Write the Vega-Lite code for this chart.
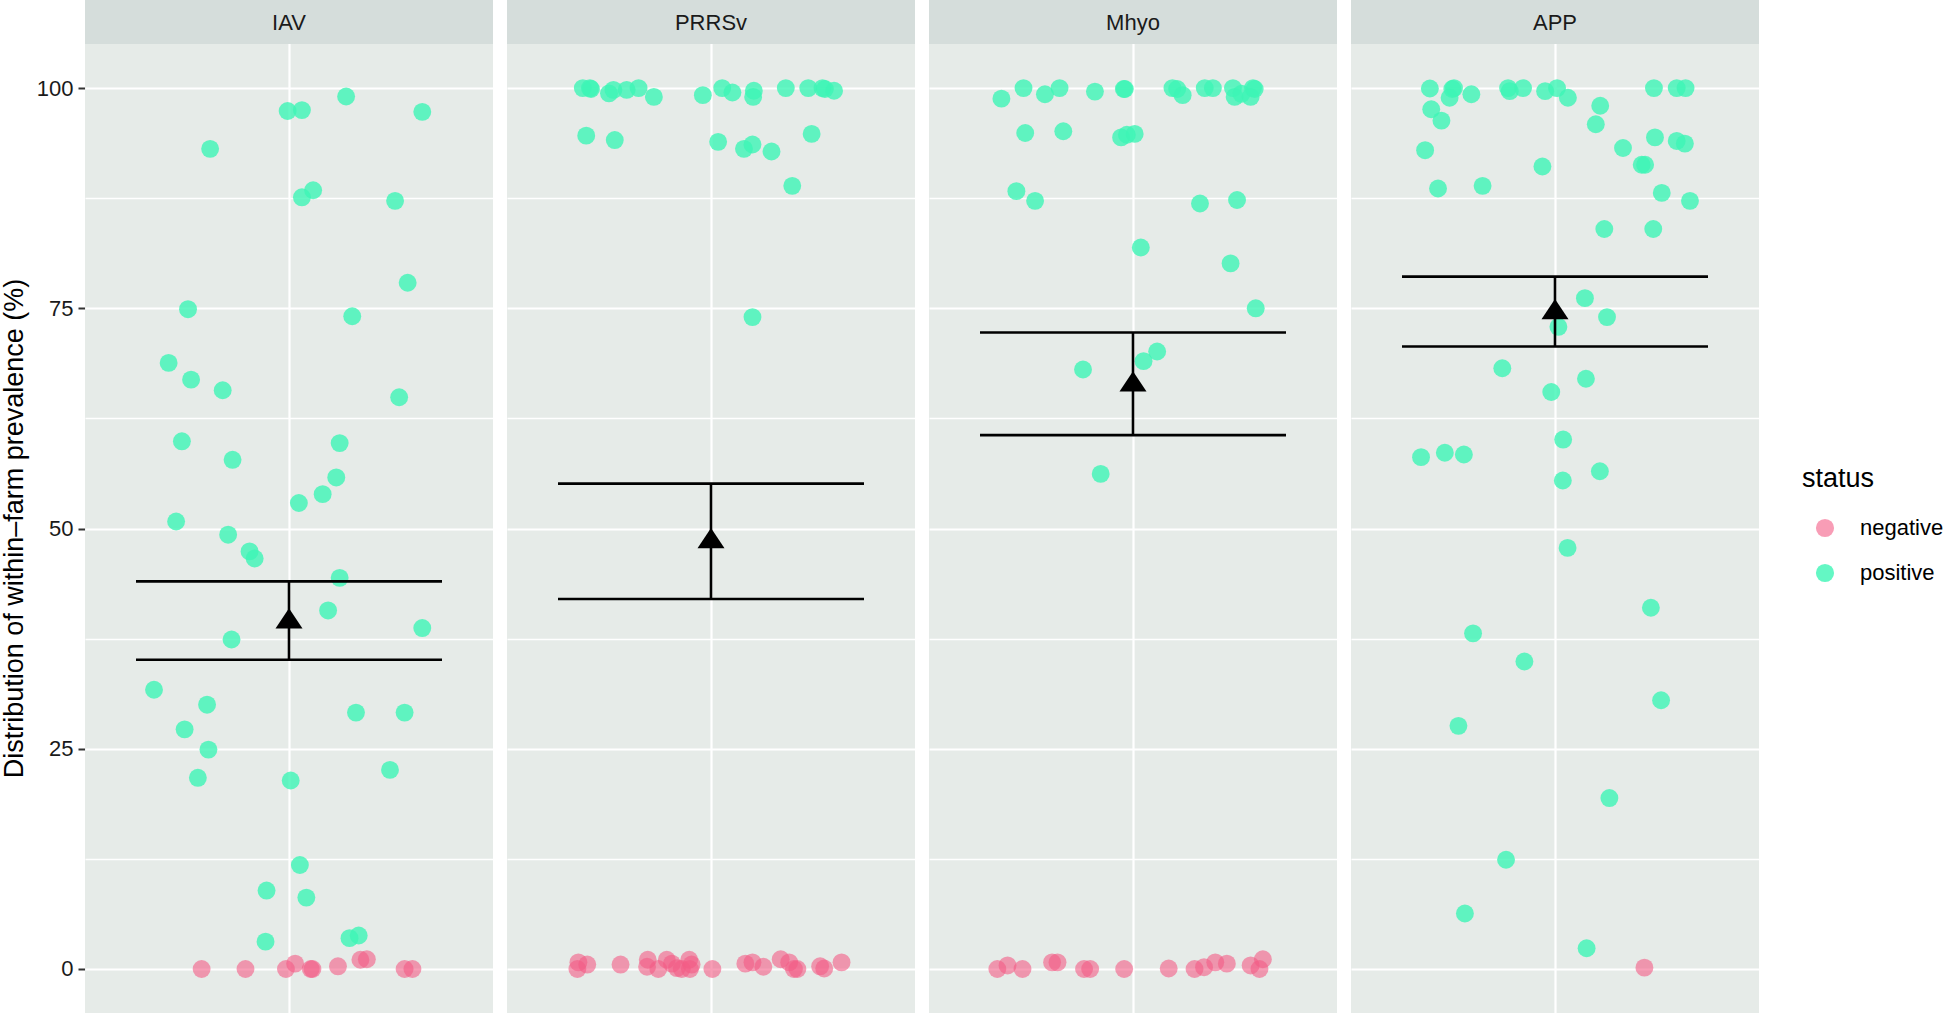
{
  "$schema": "https://vega.github.io/schema/vega-lite/v6.json",
  "padding": {"left": 0, "top": 0, "right": 0, "bottom": 0},
  "background": "white",
  "config": {
    "font": "Liberation Sans",
    "view": {"fill": "#E6EBE8", "stroke": null},
    "legend": {"orient": "none", "legendX": 1717, "legendY": 466}
  },
  "data": {"values": [
    {"pathogen":"IAV","mean":39.8,"lo":35.1,"hi":44.0},
    {"pathogen":"PRRSv","mean":48.9,"lo":42.0,"hi":55.1},
    {"pathogen":"Mhyo","mean":66.7,"lo":60.6,"hi":72.25},
    {"pathogen":"APP","mean":74.9,"lo":70.66,"hi":78.6},
    {"pathogen":"IAV","status":"positive","jitter":0.168,"prevalence":99.05},
    {"pathogen":"IAV","status":"positive","jitter":-0.004,"prevalence":97.4},
    {"pathogen":"IAV","status":"positive","jitter":0.038,"prevalence":97.5},
    {"pathogen":"IAV","status":"positive","jitter":0.392,"prevalence":97.3},
    {"pathogen":"IAV","status":"positive","jitter":-0.232,"prevalence":93.1},
    {"pathogen":"IAV","status":"positive","jitter":0.071,"prevalence":88.4},
    {"pathogen":"IAV","status":"positive","jitter":0.038,"prevalence":87.6},
    {"pathogen":"IAV","status":"positive","jitter":0.312,"prevalence":87.2},
    {"pathogen":"IAV","status":"positive","jitter":0.349,"prevalence":77.9},
    {"pathogen":"IAV","status":"positive","jitter":-0.297,"prevalence":74.9},
    {"pathogen":"IAV","status":"positive","jitter":0.186,"prevalence":74.1},
    {"pathogen":"IAV","status":"positive","jitter":-0.354,"prevalence":68.8},
    {"pathogen":"IAV","status":"positive","jitter":-0.288,"prevalence":66.9},
    {"pathogen":"IAV","status":"positive","jitter":-0.195,"prevalence":65.7},
    {"pathogen":"IAV","status":"positive","jitter":0.324,"prevalence":64.9},
    {"pathogen":"IAV","status":"positive","jitter":-0.315,"prevalence":59.9},
    {"pathogen":"IAV","status":"positive","jitter":0.149,"prevalence":59.7},
    {"pathogen":"IAV","status":"positive","jitter":-0.166,"prevalence":57.8},
    {"pathogen":"IAV","status":"positive","jitter":0.139,"prevalence":55.8},
    {"pathogen":"IAV","status":"positive","jitter":0.099,"prevalence":53.9},
    {"pathogen":"IAV","status":"positive","jitter":0.029,"prevalence":52.9},
    {"pathogen":"IAV","status":"positive","jitter":-0.332,"prevalence":50.8},
    {"pathogen":"IAV","status":"positive","jitter":-0.179,"prevalence":49.3},
    {"pathogen":"IAV","status":"positive","jitter":-0.116,"prevalence":47.4},
    {"pathogen":"IAV","status":"positive","jitter":-0.101,"prevalence":46.6},
    {"pathogen":"IAV","status":"positive","jitter":0.149,"prevalence":44.4},
    {"pathogen":"IAV","status":"positive","jitter":0.115,"prevalence":40.7},
    {"pathogen":"IAV","status":"positive","jitter":0.392,"prevalence":38.7},
    {"pathogen":"IAV","status":"positive","jitter":-0.169,"prevalence":37.4},
    {"pathogen":"IAV","status":"positive","jitter":-0.397,"prevalence":31.7},
    {"pathogen":"IAV","status":"positive","jitter":-0.241,"prevalence":30.0},
    {"pathogen":"IAV","status":"positive","jitter":0.197,"prevalence":29.1},
    {"pathogen":"IAV","status":"positive","jitter":0.340,"prevalence":29.1},
    {"pathogen":"IAV","status":"positive","jitter":-0.307,"prevalence":27.2},
    {"pathogen":"IAV","status":"positive","jitter":-0.237,"prevalence":24.9},
    {"pathogen":"IAV","status":"positive","jitter":0.297,"prevalence":22.6},
    {"pathogen":"IAV","status":"positive","jitter":-0.268,"prevalence":21.7},
    {"pathogen":"IAV","status":"positive","jitter":0.005,"prevalence":21.4},
    {"pathogen":"IAV","status":"positive","jitter":0.032,"prevalence":11.8},
    {"pathogen":"IAV","status":"positive","jitter":-0.066,"prevalence":8.9},
    {"pathogen":"IAV","status":"positive","jitter":0.051,"prevalence":8.1},
    {"pathogen":"IAV","status":"positive","jitter":0.178,"prevalence":3.5},
    {"pathogen":"IAV","status":"positive","jitter":0.205,"prevalence":3.8},
    {"pathogen":"IAV","status":"positive","jitter":-0.069,"prevalence":3.1},
    {"pathogen":"IAV","status":"negative","jitter":-0.257,"prevalence":0},
    {"pathogen":"IAV","status":"negative","jitter":-0.128,"prevalence":0},
    {"pathogen":"IAV","status":"negative","jitter":-0.009,"prevalence":0},
    {"pathogen":"IAV","status":"negative","jitter":0.018,"prevalence":0.6},
    {"pathogen":"IAV","status":"negative","jitter":0.064,"prevalence":0},
    {"pathogen":"IAV","status":"negative","jitter":0.069,"prevalence":0},
    {"pathogen":"IAV","status":"negative","jitter":0.144,"prevalence":0.3},
    {"pathogen":"IAV","status":"negative","jitter":0.21,"prevalence":1.05},
    {"pathogen":"IAV","status":"negative","jitter":0.229,"prevalence":1.1},
    {"pathogen":"IAV","status":"negative","jitter":0.34,"prevalence":0},
    {"pathogen":"IAV","status":"negative","jitter":0.363,"prevalence":0},
    {"pathogen":"PRRSv","status":"positive","jitter":-0.377,"prevalence":100},
    {"pathogen":"PRRSv","status":"positive","jitter":-0.356,"prevalence":100},
    {"pathogen":"PRRSv","status":"positive","jitter":-0.353,"prevalence":99.9},
    {"pathogen":"PRRSv","status":"positive","jitter":-0.3,"prevalence":99.4},
    {"pathogen":"PRRSv","status":"positive","jitter":-0.287,"prevalence":99.8},
    {"pathogen":"PRRSv","status":"positive","jitter":-0.248,"prevalence":99.8},
    {"pathogen":"PRRSv","status":"positive","jitter":-0.213,"prevalence":100},
    {"pathogen":"PRRSv","status":"positive","jitter":-0.168,"prevalence":99.0},
    {"pathogen":"PRRSv","status":"positive","jitter":-0.024,"prevalence":99.2},
    {"pathogen":"PRRSv","status":"positive","jitter":0.033,"prevalence":100},
    {"pathogen":"PRRSv","status":"positive","jitter":0.063,"prevalence":99.5},
    {"pathogen":"PRRSv","status":"positive","jitter":0.126,"prevalence":99.7},
    {"pathogen":"PRRSv","status":"positive","jitter":0.124,"prevalence":99.0},
    {"pathogen":"PRRSv","status":"positive","jitter":0.22,"prevalence":100},
    {"pathogen":"PRRSv","status":"positive","jitter":0.286,"prevalence":100},
    {"pathogen":"PRRSv","status":"positive","jitter":0.328,"prevalence":100},
    {"pathogen":"PRRSv","status":"positive","jitter":0.335,"prevalence":99.9},
    {"pathogen":"PRRSv","status":"positive","jitter":0.362,"prevalence":99.7},
    {"pathogen":"PRRSv","status":"positive","jitter":-0.367,"prevalence":94.6},
    {"pathogen":"PRRSv","status":"positive","jitter":-0.283,"prevalence":94.1},
    {"pathogen":"PRRSv","status":"positive","jitter":0.021,"prevalence":93.9},
    {"pathogen":"PRRSv","status":"positive","jitter":0.097,"prevalence":93.1},
    {"pathogen":"PRRSv","status":"positive","jitter":0.122,"prevalence":93.6},
    {"pathogen":"PRRSv","status":"positive","jitter":0.178,"prevalence":92.8},
    {"pathogen":"PRRSv","status":"positive","jitter":0.296,"prevalence":94.8},
    {"pathogen":"PRRSv","status":"positive","jitter":0.239,"prevalence":88.9},
    {"pathogen":"PRRSv","status":"positive","jitter":0.122,"prevalence":74.0},
    {"pathogen":"PRRSv","status":"negative","jitter":-0.393,"prevalence":0},
    {"pathogen":"PRRSv","status":"negative","jitter":-0.39,"prevalence":0.75},
    {"pathogen":"PRRSv","status":"negative","jitter":-0.364,"prevalence":0.5},
    {"pathogen":"PRRSv","status":"negative","jitter":-0.266,"prevalence":0.5},
    {"pathogen":"PRRSv","status":"negative","jitter":-0.186,"prevalence":1.05},
    {"pathogen":"PRRSv","status":"negative","jitter":-0.188,"prevalence":0.25},
    {"pathogen":"PRRSv","status":"negative","jitter":-0.155,"prevalence":0},
    {"pathogen":"PRRSv","status":"negative","jitter":-0.13,"prevalence":1.05},
    {"pathogen":"PRRSv","status":"negative","jitter":-0.115,"prevalence":0.6},
    {"pathogen":"PRRSv","status":"negative","jitter":-0.1,"prevalence":0.1},
    {"pathogen":"PRRSv","status":"negative","jitter":-0.086,"prevalence":0},
    {"pathogen":"PRRSv","status":"negative","jitter":-0.064,"prevalence":1.05},
    {"pathogen":"PRRSv","status":"negative","jitter":-0.062,"prevalence":0},
    {"pathogen":"PRRSv","status":"negative","jitter":-0.057,"prevalence":0.5},
    {"pathogen":"PRRSv","status":"negative","jitter":0.004,"prevalence":0},
    {"pathogen":"PRRSv","status":"negative","jitter":0.101,"prevalence":0.6},
    {"pathogen":"PRRSv","status":"negative","jitter":0.122,"prevalence":0.75},
    {"pathogen":"PRRSv","status":"negative","jitter":0.154,"prevalence":0.25},
    {"pathogen":"PRRSv","status":"negative","jitter":0.205,"prevalence":1.1},
    {"pathogen":"PRRSv","status":"negative","jitter":0.23,"prevalence":0.75},
    {"pathogen":"PRRSv","status":"negative","jitter":0.244,"prevalence":0},
    {"pathogen":"PRRSv","status":"negative","jitter":0.254,"prevalence":0},
    {"pathogen":"PRRSv","status":"negative","jitter":0.321,"prevalence":0.3},
    {"pathogen":"PRRSv","status":"negative","jitter":0.333,"prevalence":0.05},
    {"pathogen":"PRRSv","status":"negative","jitter":0.384,"prevalence":0.75},
    {"pathogen":"Mhyo","status":"positive","jitter":-0.387,"prevalence":98.8},
    {"pathogen":"Mhyo","status":"positive","jitter":-0.322,"prevalence":100},
    {"pathogen":"Mhyo","status":"positive","jitter":-0.259,"prevalence":99.3},
    {"pathogen":"Mhyo","status":"positive","jitter":-0.216,"prevalence":100},
    {"pathogen":"Mhyo","status":"positive","jitter":-0.112,"prevalence":99.6},
    {"pathogen":"Mhyo","status":"positive","jitter":-0.027,"prevalence":99.9},
    {"pathogen":"Mhyo","status":"positive","jitter":-0.024,"prevalence":99.9},
    {"pathogen":"Mhyo","status":"positive","jitter":0.116,"prevalence":100},
    {"pathogen":"Mhyo","status":"positive","jitter":0.13,"prevalence":99.9},
    {"pathogen":"Mhyo","status":"positive","jitter":0.146,"prevalence":99.2},
    {"pathogen":"Mhyo","status":"positive","jitter":0.211,"prevalence":100},
    {"pathogen":"Mhyo","status":"positive","jitter":0.235,"prevalence":100},
    {"pathogen":"Mhyo","status":"positive","jitter":0.294,"prevalence":100},
    {"pathogen":"Mhyo","status":"positive","jitter":0.299,"prevalence":99.0},
    {"pathogen":"Mhyo","status":"positive","jitter":0.319,"prevalence":99.35},
    {"pathogen":"Mhyo","status":"positive","jitter":0.346,"prevalence":99.0},
    {"pathogen":"Mhyo","status":"positive","jitter":0.353,"prevalence":100},
    {"pathogen":"Mhyo","status":"positive","jitter":0.358,"prevalence":99.9},
    {"pathogen":"Mhyo","status":"positive","jitter":-0.317,"prevalence":94.9},
    {"pathogen":"Mhyo","status":"positive","jitter":-0.205,"prevalence":95.1},
    {"pathogen":"Mhyo","status":"positive","jitter":-0.035,"prevalence":94.4},
    {"pathogen":"Mhyo","status":"positive","jitter":-0.018,"prevalence":94.7},
    {"pathogen":"Mhyo","status":"positive","jitter":0.005,"prevalence":94.8},
    {"pathogen":"Mhyo","status":"positive","jitter":-0.343,"prevalence":88.3},
    {"pathogen":"Mhyo","status":"positive","jitter":-0.288,"prevalence":87.2},
    {"pathogen":"Mhyo","status":"positive","jitter":0.197,"prevalence":86.9},
    {"pathogen":"Mhyo","status":"positive","jitter":0.306,"prevalence":87.3},
    {"pathogen":"Mhyo","status":"positive","jitter":0.023,"prevalence":81.9},
    {"pathogen":"Mhyo","status":"positive","jitter":0.287,"prevalence":80.1},
    {"pathogen":"Mhyo","status":"positive","jitter":0.361,"prevalence":75.0},
    {"pathogen":"Mhyo","status":"positive","jitter":0.071,"prevalence":70.1},
    {"pathogen":"Mhyo","status":"positive","jitter":0.031,"prevalence":69.0},
    {"pathogen":"Mhyo","status":"positive","jitter":-0.147,"prevalence":68.05},
    {"pathogen":"Mhyo","status":"positive","jitter":-0.095,"prevalence":56.2},
    {"pathogen":"Mhyo","status":"negative","jitter":-0.399,"prevalence":0},
    {"pathogen":"Mhyo","status":"negative","jitter":-0.369,"prevalence":0.4},
    {"pathogen":"Mhyo","status":"negative","jitter":-0.325,"prevalence":0},
    {"pathogen":"Mhyo","status":"negative","jitter":-0.238,"prevalence":0.75},
    {"pathogen":"Mhyo","status":"negative","jitter":-0.222,"prevalence":0.75},
    {"pathogen":"Mhyo","status":"negative","jitter":-0.144,"prevalence":0},
    {"pathogen":"Mhyo","status":"negative","jitter":-0.126,"prevalence":0},
    {"pathogen":"Mhyo","status":"negative","jitter":-0.026,"prevalence":0},
    {"pathogen":"Mhyo","status":"negative","jitter":0.105,"prevalence":0.05},
    {"pathogen":"Mhyo","status":"negative","jitter":0.181,"prevalence":0},
    {"pathogen":"Mhyo","status":"negative","jitter":0.209,"prevalence":0.2},
    {"pathogen":"Mhyo","status":"negative","jitter":0.242,"prevalence":0.75},
    {"pathogen":"Mhyo","status":"negative","jitter":0.276,"prevalence":0.6},
    {"pathogen":"Mhyo","status":"negative","jitter":0.346,"prevalence":0.4},
    {"pathogen":"Mhyo","status":"negative","jitter":0.372,"prevalence":0},
    {"pathogen":"Mhyo","status":"negative","jitter":0.382,"prevalence":1.1},
    {"pathogen":"APP","status":"positive","jitter":-0.368,"prevalence":99.95},
    {"pathogen":"APP","status":"positive","jitter":-0.297,"prevalence":100},
    {"pathogen":"APP","status":"positive","jitter":-0.302,"prevalence":99.9},
    {"pathogen":"APP","status":"positive","jitter":-0.31,"prevalence":98.9},
    {"pathogen":"APP","status":"positive","jitter":-0.246,"prevalence":99.3},
    {"pathogen":"APP","status":"positive","jitter":-0.138,"prevalence":100},
    {"pathogen":"APP","status":"positive","jitter":-0.133,"prevalence":99.65},
    {"pathogen":"APP","status":"positive","jitter":-0.094,"prevalence":100},
    {"pathogen":"APP","status":"positive","jitter":-0.029,"prevalence":99.65},
    {"pathogen":"APP","status":"positive","jitter":0.006,"prevalence":100},
    {"pathogen":"APP","status":"positive","jitter":0.038,"prevalence":98.9},
    {"pathogen":"APP","status":"positive","jitter":0.291,"prevalence":100},
    {"pathogen":"APP","status":"positive","jitter":0.358,"prevalence":100},
    {"pathogen":"APP","status":"positive","jitter":0.384,"prevalence":100},
    {"pathogen":"APP","status":"positive","jitter":-0.364,"prevalence":97.6},
    {"pathogen":"APP","status":"positive","jitter":-0.334,"prevalence":96.3},
    {"pathogen":"APP","status":"positive","jitter":0.133,"prevalence":98.0},
    {"pathogen":"APP","status":"positive","jitter":0.12,"prevalence":95.9},
    {"pathogen":"APP","status":"positive","jitter":0.294,"prevalence":94.4},
    {"pathogen":"APP","status":"positive","jitter":0.358,"prevalence":94.0},
    {"pathogen":"APP","status":"positive","jitter":0.382,"prevalence":93.7},
    {"pathogen":"APP","status":"positive","jitter":-0.382,"prevalence":92.95},
    {"pathogen":"APP","status":"positive","jitter":0.2,"prevalence":93.2},
    {"pathogen":"APP","status":"positive","jitter":-0.037,"prevalence":91.1},
    {"pathogen":"APP","status":"positive","jitter":0.255,"prevalence":91.3},
    {"pathogen":"APP","status":"positive","jitter":0.265,"prevalence":91.3},
    {"pathogen":"APP","status":"positive","jitter":-0.344,"prevalence":88.6},
    {"pathogen":"APP","status":"positive","jitter":-0.213,"prevalence":88.9},
    {"pathogen":"APP","status":"positive","jitter":0.314,"prevalence":88.1},
    {"pathogen":"APP","status":"positive","jitter":0.397,"prevalence":87.2},
    {"pathogen":"APP","status":"positive","jitter":0.145,"prevalence":84.0},
    {"pathogen":"APP","status":"positive","jitter":0.289,"prevalence":84.0},
    {"pathogen":"APP","status":"positive","jitter":0.088,"prevalence":76.15},
    {"pathogen":"APP","status":"positive","jitter":0.153,"prevalence":74.0},
    {"pathogen":"APP","status":"positive","jitter":0.01,"prevalence":72.9},
    {"pathogen":"APP","status":"positive","jitter":-0.155,"prevalence":68.2},
    {"pathogen":"APP","status":"positive","jitter":0.091,"prevalence":67.0},
    {"pathogen":"APP","status":"positive","jitter":-0.011,"prevalence":65.5},
    {"pathogen":"APP","status":"positive","jitter":0.024,"prevalence":60.1},
    {"pathogen":"APP","status":"positive","jitter":-0.394,"prevalence":58.1},
    {"pathogen":"APP","status":"positive","jitter":-0.324,"prevalence":58.6},
    {"pathogen":"APP","status":"positive","jitter":-0.268,"prevalence":58.4},
    {"pathogen":"APP","status":"positive","jitter":0.132,"prevalence":56.5},
    {"pathogen":"APP","status":"positive","jitter":0.023,"prevalence":55.45},
    {"pathogen":"APP","status":"positive","jitter":0.037,"prevalence":47.8},
    {"pathogen":"APP","status":"positive","jitter":0.282,"prevalence":41.0},
    {"pathogen":"APP","status":"positive","jitter":-0.241,"prevalence":38.1},
    {"pathogen":"APP","status":"positive","jitter":-0.09,"prevalence":34.9},
    {"pathogen":"APP","status":"positive","jitter":0.312,"prevalence":30.5},
    {"pathogen":"APP","status":"positive","jitter":-0.284,"prevalence":27.6},
    {"pathogen":"APP","status":"positive","jitter":0.16,"prevalence":19.4},
    {"pathogen":"APP","status":"positive","jitter":-0.144,"prevalence":12.4},
    {"pathogen":"APP","status":"positive","jitter":-0.265,"prevalence":6.3},
    {"pathogen":"APP","status":"positive","jitter":0.093,"prevalence":2.35},
    {"pathogen":"APP","status":"negative","jitter":0.263,"prevalence":0.15}
  ]},
  "facet": {"column": {"field": "pathogen", "type": "nominal", "sort": ["IAV", "PRRSv", "Mhyo", "APP"], "header": {"title": null, "labels": false}}},
  "spacing": 14,
  "resolve": {"scale": {"x": "shared", "y": "shared"}},
  "spec": {
    "width": 408,
    "height": 1013,
    "layer": [
      {
        "transform": [{"filter": "isValid(datum.prevalence)"}],
        "mark": {"type": "point", "shape": "circle", "filled": true, "size": 320, "strokeWidth": 0},
        "encoding": {
          "x": {"field": "jitter", "type": "quantitative", "scale": {"domain": [-0.6, 0.6], "nice": false, "zero": false},
                "axis": {"values": [0], "labels": false, "ticks": false, "domain": false, "title": null, "grid": true, "gridColor": "#FFFFFF", "gridWidth": 2.2}},
          "y": {"field": "prevalence", "type": "quantitative", "title": "Distribution of within–farm prevalence (%)",
                "scale": {"domain": [-5, 110], "nice": false, "zero": false},
                "axis": {"values": [0, 12.5, 25, 37.5, 50, 62.5, 75, 87.5, 100], "format": "d",
                         "labelExpr": "datum.value % 25 === 0 ? datum.label : ''",
                         "domain": false, "grid": true, "gridColor": "#FFFFFF",
                         "gridWidth": {"condition": {"test": "datum.value % 25 !== 0", "value": 1.4}, "value": 2.2},
                         "tickColor": {"condition": {"test": "datum.value % 25 !== 0", "value": "transparent"}, "value": "#333333"},
                         "tickSize": 7, "tickWidth": 2, "labelPadding": 5, "labelFontSize": 22, "labelColor": "#1A1A1A",
                         "titleFontSize": 27, "titleFontWeight": "normal", "titleColor": "#000000", "titlePadding": 8, "titleY": 528}},
          "color": {"field": "status", "type": "nominal", "scale": {"domain": ["negative", "positive"], "range": ["#F35C86", "#3DF5B5"]},
                    "legend": {"title": "status", "titleFontSize": 27, "titleFontWeight": "normal", "titleColor": "#000000", "titlePadding": 24,
                               "labelFontSize": 22, "labelColor": "#000000", "symbolType": "circle", "symbolSize": 330, "symbolOpacity": 0.75,
                               "symbolStrokeWidth": 0, "rowPadding": 23, "labelOffset": 24, "symbolOffset": 12}},
          "opacity": {"field": "status", "type": "nominal", "scale": {"domain": ["negative", "positive"], "range": [0.6, 0.8]}, "legend": null}
        }
      },
      {
        "transform": [{"filter": "isValid(datum.mean)"}],
        "mark": {"type": "rule", "color": "#000000", "strokeWidth": 2.6},
        "encoding": {
          "x": {"datum": -0.45, "type": "quantitative"},
          "x2": {"datum": 0.45},
          "y": {"field": "hi", "type": "quantitative", "title": "Distribution of within–farm prevalence (%)"}
        }
      },
      {
        "transform": [{"filter": "isValid(datum.mean)"}],
        "mark": {"type": "rule", "color": "#000000", "strokeWidth": 2.6},
        "encoding": {
          "x": {"datum": -0.45, "type": "quantitative"},
          "x2": {"datum": 0.45},
          "y": {"field": "lo", "type": "quantitative", "title": "Distribution of within–farm prevalence (%)"}
        }
      },
      {
        "transform": [{"filter": "isValid(datum.mean)"}],
        "mark": {"type": "rule", "color": "#000000", "strokeWidth": 2.6},
        "encoding": {
          "x": {"datum": 0, "type": "quantitative"},
          "y": {"field": "lo", "type": "quantitative", "title": "Distribution of within–farm prevalence (%)"},
          "y2": {"field": "hi"}
        }
      },
      {
        "transform": [{"filter": "isValid(datum.mean)"}],
        "mark": {"type": "point", "shape": "M0,-0.75L1,0.75L-1,0.75Z", "filled": true, "size": 729, "color": "#000000", "opacity": 1, "strokeWidth": 0},
        "encoding": {
          "x": {"datum": 0, "type": "quantitative"},
          "y": {"field": "mean", "type": "quantitative", "title": "Distribution of within–farm prevalence (%)"}
        }
      },
      {
        "transform": [{"filter": "isValid(datum.mean)"}],
        "mark": {"type": "rect", "color": "#D5DDDB"},
        "encoding": {
          "x": {"datum": -0.6, "type": "quantitative"},
          "x2": {"datum": 0.6},
          "y": {"datum": 110, "type": "quantitative"},
          "y2": {"datum": 105}
        }
      },
      {
        "transform": [{"filter": "isValid(datum.mean)"}],
        "mark": {"type": "text", "fontSize": 22, "color": "#1A1A1A", "baseline": "middle", "align": "center", "dy": 1},
        "encoding": {
          "x": {"datum": 0, "type": "quantitative"},
          "y": {"datum": 107.5, "type": "quantitative"},
          "text": {"field": "pathogen"}
        }
      }
    ]
  }
}
